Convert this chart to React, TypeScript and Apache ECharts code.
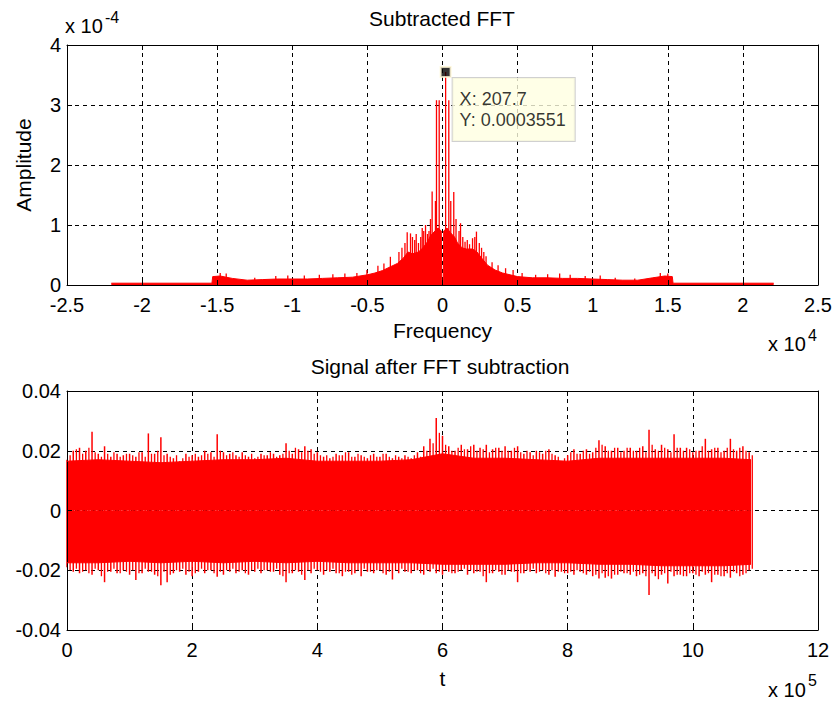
import React, { useEffect, useRef } from 'react';
import * as echarts from 'echarts';

const FONT = '"Liberation Sans", Arial, Helvetica, sans-serif';
const RED = '#ff0000';

// ---------- Top plot: Subtracted FFT (amplitude in units of 1e-4) ----------
const fftBodyFreq = [-22050, -15350, -15300, -14800, -14000, -13000, -12000, -11000, -10000, -9000, -8000, -7000, -6000, -5000, -4500, -4000, -3500, -3000, -2600, -2300, -2000, -1600, -1300, -1000, -800, -500, -300, -80, -50, 50, 80, 300, 500, 800, 1000, 1300, 1600, 2000, 2300, 2600, 3000, 3500, 4000, 4500, 5000, 6000, 7000, 8000, 9000, 10000, 11000, 12000, 13000, 14000, 14800, 15300, 15350, 22050];
const fftBodyAmp = [0.03, 0.03, 0.14, 0.15, 0.11, 0.08, 0.09, 0.1, 0.1, 0.1, 0.11, 0.12, 0.13, 0.17, 0.2, 0.24, 0.3, 0.36, 0.45, 0.55, 0.52, 0.55, 0.62, 0.72, 0.82, 0.9, 0.95, 0.9, 0.02, 0.02, 0.9, 0.95, 0.88, 0.8, 0.7, 0.62, 0.6, 0.6, 0.55, 0.45, 0.33, 0.25, 0.2, 0.17, 0.14, 0.12, 0.12, 0.11, 0.11, 0.1, 0.09, 0.08, 0.08, 0.12, 0.15, 0.14, 0.03, 0.03];

const fftSpikeFreq = [-14800, -14400, -12500, -11100, -10300, -9200, -8200, -7300, -6500, -5700, -5030, -4300, -3900, -3470, -2900, -2700, -2500, -2350, -2130, -2000, -1850, -1750, -1600, -1450, -1350, -1250, -1130, -1000, -900, -800, -690, -470, -400, -220,
  207.7, 420, 550, 750, 900, 1100, 1200, 1350, 1500, 1650, 1800, 2000, 2150, 2260, 2450, 2600, 2750, 2900, 3300, 3700, 4200, 4700, 5300, 6200, 7000, 7800, 8500, 9500, 10500, 11500, 12800, 14500, 15000];
const fftSpikeAmp = [0.2, 0.19, 0.12, 0.15, 0.16, 0.16, 0.17, 0.18, 0.19, 0.2, 0.25, 0.32, 0.36, 0.47, 0.55, 0.62, 0.7, 0.88, 0.86, 0.8, 0.75, 0.85, 0.7, 0.8, 0.95, 0.9, 1.0, 0.85, 0.9, 1.1, 1.56, 1.4, 3.08, 3.08,
  3.551, 3.08, 1.4, 1.55, 1.1, 0.9, 1.03, 0.8, 0.72, 0.75, 0.68, 0.78, 0.8, 0.89, 0.7, 0.62, 0.55, 0.48, 0.38, 0.33, 0.28, 0.25, 0.2, 0.17, 0.18, 0.19, 0.17, 0.15, 0.16, 0.12, 0.11, 0.2, 0.19];

const FFT_UNIT = 1e-4;
const tipX = 207.7;
const tipY = 0.0003551;

// ---------- Bottom plot: Signal after FFT subtraction (values in units of 1e-3) ----------
const SIG_UNIT = 1e-3;
const SIG_STEP = 1e4; // samples between envelope readings
const sigPeak = [
  17, 20, 21, 20, 26.4, 19, 21.5, 18, 19, 18.5,
  19, 18, 19.5, 25.8, 19, 24.5, 19, 17.5, 16.5, 19,
  18.5, 18, 20, 19.5, 25.5, 19.5, 19, 18.5, 19.5, 18,
  17.5, 19, 18.5, 19, 18.5, 22.5, 19, 20.5, 21.5, 20.5,
  19.5, 18, 17.5, 19, 18.5, 19.5, 18, 18.5, 17.5, 19,
  18, 19, 17.5, 18, 18.5, 17.5, 19.5, 21.5, 24, 31,
  25, 21.5, 20, 22, 20.5, 22, 21, 22, 20.5, 21,
  21.5, 20, 21.5, 19, 19.5, 20, 19, 20.5, 18.5, 16.5,
  18.5, 20.5, 19, 20.5, 19.5, 23.5, 21.5, 20, 21, 20,
  21, 20, 21.5, 27, 20.5, 22, 20.5, 25.5, 21, 21,
  19.5, 20, 24, 20.5, 21, 20, 24, 20, 21.5, 19.5,
];
const sigTrough = [
  -19, -20.5, -21, -20, -21.5, -20, -24, -20.5, -21, -20,
  -21.5, -23.3, -21, -20.5, -21.5, -25, -24, -21, -20.5, -21.5,
  -22, -20.5, -21, -20, -22.2, -21.5, -20.5, -21, -20, -21.5,
  -20.5, -21, -20, -20.5, -21.5, -24, -21, -20.5, -23.3, -21,
  -20, -21.5, -20.5, -21, -22, -20.5, -21, -22, -20.5, -21,
  -20, -21.5, -23.1, -21, -20.5, -21, -20, -21.5, -20.5, -21,
  -21.5, -20.5, -21, -20, -21.5, -21, -20.5, -24, -21, -20.5,
  -21.5, -20.5, -24, -21, -20.5, -21, -20, -21.5, -22.2, -20.5,
  -21, -21.5, -20.5, -21.5, -22, -22.8, -22.5, -22.8, -21.5, -21,
  -21.5, -22, -21, -28.3, -22, -21.5, -24.4, -22, -21.5, -22,
  -21, -22, -21.5, -24, -21.5, -22, -22.5, -21, -21.5, -20,
];
// envelope readings half-way between the ones above
const sigPeakMid = [
  18.5, 20.5, 19, 21, 19.5, 18, 19, 19.5, 18, 19,
  18.5, 19.5, 18, 19, 20, 18.5, 18, 18.5, 17.5, 18,
  19, 18.5, 19, 18, 20, 18.5, 19.5, 18, 18.5, 19,
  18, 18.5, 19.5, 18, 19, 20, 21, 19.5, 20, 19,
  18.5, 18.5, 18, 18.5, 19.5, 18, 19, 18, 18.5, 18,
  19, 18, 18.5, 17.5, 18, 18.5, 18, 20, 22.5, 26,
  22, 20, 21, 20.5, 21.5, 20, 20.5, 19.5, 21, 20,
  20, 21, 19.5, 20, 18.5, 19.5, 20, 19, 18, 17.5,
  19.5, 19, 20, 19, 21, 22, 20, 21, 19.5, 21,
  20, 21, 19.5, 22, 20, 21, 19.5, 21, 20, 20.5,
  20, 21.5, 20, 21, 19.5, 21, 20.5, 21, 20, 18.5,
];
const sigTroughMid = [
  -20, -19.5, -20.5, -21, -19.5, -22, -20.5, -19.5, -21, -20.5,
  -20, -21, -19.5, -20.5, -22, -20.5, -21.5, -20, -19.5, -20.5,
  -21, -19.5, -20, -21, -20.5, -20, -19.5, -20.5, -21, -20,
  -19.5, -20, -20.5, -19.5, -22, -21, -20, -21.5, -20, -19.5,
  -20.5, -20, -19.5, -21, -20.5, -21.5, -20, -19.5, -20.5, -20,
  -21, -20.5, -20, -19.5, -20.5, -20, -21, -20, -19.5, -20.5,
  -20, -21, -20.5, -19.5, -20, -20.5, -22, -21, -20, -21.5,
  -20, -20.5, -21, -20, -19.5, -20.5, -21, -20, -20.5, -21,
  -20.5, -20, -21, -20.5, -21.5, -21, -22, -21.5, -20.5, -21,
  -20.5, -21.5, -22, -21, -23, -21, -20.5, -21.5, -22, -21,
  -21.5, -20.5, -21, -21.5, -22, -21, -20.5, -22, -21, -19.5,
];
const sigBodyT = [0, 0.5, 1, 1.5, 2, 2.5, 3, 3.5, 4, 4.5, 5, 5.5, 6, 6.5, 7, 7.5, 8, 8.5, 9, 9.5, 10, 10.5, 10.93]; // x 1e5
const sigBodyUp = [16.5, 17, 16.5, 16, 16.5, 17, 17, 17.5, 16.5, 16.5, 16.5, 17, 19, 17.5, 17.5, 17, 16.5, 17.5, 17.5, 17.5, 17.5, 17.5, 17];
const sigBodyLo = [-17.5, -17.5, -17, -17.5, -17, -17.5, -17, -17.5, -17, -17.5, -17.5, -17.5, -18, -18, -18, -17.5, -17.5, -18, -18, -18.5, -18.5, -18.5, -18];

const tickStyle = { color: '#000', fontFamily: FONT, fontSize: 20 };
const nameStyle = { color: '#000', fontFamily: FONT, fontSize: 21 };

function mainXAxis(gridIndex: number, min: number, max: number, interval: number, div: number, name: string, nameGap: number) {
  return {
    type: 'value', gridIndex, min, max, interval, position: 'bottom', z: 3,
    axisLine: { show: true, onZero: false, lineStyle: { color: '#000', width: 1 } },
    axisTick: { show: true, inside: true, length: 5, lineStyle: { color: '#000' } },
    axisLabel: { ...tickStyle, margin: 10, formatter: (v: number) => String(Math.round((v / div) * 100) / 100) },
    splitLine: { show: false },
    name, nameLocation: 'middle', nameGap, nameTextStyle: nameStyle,
  };
}
function mirrorXAxis(gridIndex: number, min: number, max: number, interval: number) {
  return {
    type: 'value', gridIndex, min, max, interval, position: 'top',
    axisLine: { show: true, onZero: false, lineStyle: { color: '#000', width: 1 } },
    axisTick: { show: true, inside: true, length: 5, lineStyle: { color: '#000' } },
    axisLabel: { show: false },
    splitLine: { show: true, lineStyle: { color: '#000', width: 1, type: [4, 4] } },
  };
}
function mainYAxis(gridIndex: number, min: number, max: number, interval: number, fmt: (v: number) => string, name: string) {
  return {
    type: 'value', gridIndex, min, max, interval, position: 'left', z: 3,
    axisLine: { show: true, onZero: false, lineStyle: { color: '#000', width: 1 } },
    axisTick: { show: true, inside: true, length: 5, lineStyle: { color: '#000' } },
    axisLabel: { ...tickStyle, margin: 6, padding: [0, 0, 4, 0], formatter: fmt },
    splitLine: { show: false },
    name, nameLocation: 'middle', nameGap: 33, nameRotate: 90, nameTextStyle: nameStyle,
  };
}
function mirrorYAxis(gridIndex: number, min: number, max: number, interval: number) {
  return {
    type: 'value', gridIndex, min, max, interval, position: 'right',
    axisLine: { show: true, onZero: false, lineStyle: { color: '#000', width: 1 } },
    axisTick: { show: true, inside: true, length: 5, lineStyle: { color: '#000' } },
    axisLabel: { show: false },
    splitLine: { show: true, lineStyle: { color: '#000', width: 1, type: [4, 4] } },
  };
}

const vline = (lw: number) => (params: any, api: any) => {
  const x = api.value(0);
  const p0 = api.coord([x, api.value(1)]);
  const p1 = api.coord([x, api.value(2)]);
  return { type: 'line', shape: { x1: p0[0], y1: p0[1], x2: p1[0], y2: p1[1] }, style: { stroke: RED, lineWidth: lw } };
};

export default function App() {
  const ref = useRef<HTMLDivElement>(null);
  useEffect(() => {
    const chart = echarts.init(ref.current!, null, { renderer: 'svg' });

    const fftBody = fftBodyFreq.map((f, i) => [f, fftBodyAmp[i]]);
    const fftSpikes = fftSpikeFreq.map((f, i) => [f, 0, fftSpikeAmp[i]]);
    const sigUp = sigBodyT.map((t, i) => [t * 1e5, sigBodyUp[i] * SIG_UNIT]);
    const sigLo = sigBodyT.map((t, i) => [t * 1e5, sigBodyLo[i] * SIG_UNIT]);
    const sigSpikes = sigPeak.map((p, i) => [i * SIG_STEP, sigTrough[i] * SIG_UNIT, p * SIG_UNIT]);
    const sigSpikesMid = sigPeakMid.map((p, i) => [i * SIG_STEP + SIG_STEP / 2, sigTroughMid[i] * SIG_UNIT, p * SIG_UNIT]);

    const option: any = {
      animation: false,
      backgroundColor: '#fff',
      title: [
        { text: 'Subtracted FFT', left: 442, top: 8, textAlign: 'center', padding: 0, textStyle: { ...nameStyle, fontWeight: 'normal' } },
        { text: 'Signal after FFT subtraction', left: 440, top: 356, textAlign: 'center', padding: 0, textStyle: { ...nameStyle, fontWeight: 'normal' } },
      ],
      grid: [
        { left: 67, top: 45, width: 751, height: 240 },
        { left: 67, top: 391, width: 751, height: 239 },
      ],
      xAxis: [
        mainXAxis(0, -25000, 25000, 5000, 1e4, 'Frequency', 35),
        mirrorXAxis(0, -25000, 25000, 5000),
        mainXAxis(1, 0, 1200000, 200000, 1e5, 't', 38),
        mirrorXAxis(1, 0, 1200000, 200000),
      ],
      yAxis: [
        mainYAxis(0, 0, 4, 1, (v: number) => String(Math.round(v)), 'Amplitude'),
        mirrorYAxis(0, 0, 4, 1),
        mainYAxis(1, -0.04, 0.04, 0.02, (v: number) => (Math.abs(v) < 1e-9 ? '0' : String(Math.round(v * 100) / 100)), ''),
        mirrorYAxis(1, -0.04, 0.04, 0.02),
      ],
      graphic: [
        { type: 'text', x: 65, y: 26, style: { text: 'x 10', font: `20px ${FONT}`, fill: '#000', verticalAlign: 'middle', textVerticalAlign: 'middle' } },
        { type: 'text', x: 105, y: 17, style: { text: '-4', font: `16px ${FONT}`, fill: '#000', verticalAlign: 'middle', textVerticalAlign: 'middle' } },
        { type: 'text', x: 768, y: 344, style: { text: 'x 10', font: `20px ${FONT}`, fill: '#000', verticalAlign: 'middle', textVerticalAlign: 'middle' } },
        { type: 'text', x: 808, y: 335, style: { text: '4', font: `16px ${FONT}`, fill: '#000', verticalAlign: 'middle', textVerticalAlign: 'middle' } },
        { type: 'text', x: 768, y: 690, style: { text: 'x 10', font: `20px ${FONT}`, fill: '#000', verticalAlign: 'middle', textVerticalAlign: 'middle' } },
        { type: 'text', x: 808, y: 680, style: { text: '5', font: `16px ${FONT}`, fill: '#000', verticalAlign: 'middle', textVerticalAlign: 'middle' } },
      ],
      series: [
        {
          type: 'line', xAxisIndex: 0, yAxisIndex: 0, data: fftBody, showSymbol: false, symbol: 'none',
          lineStyle: { color: RED, width: 1 }, areaStyle: { color: RED, opacity: 1 }, z: 2,
        },
        {
          type: 'custom', xAxisIndex: 0, yAxisIndex: 0, data: fftSpikes, encode: { x: 0, y: [1, 2] },
          renderItem: vline(1.3), z: 2,
        },
        {
          type: 'scatter', xAxisIndex: 0, yAxisIndex: 0, data: [[tipX, tipY / FFT_UNIT]],
          symbol: 'rect', symbolSize: 10, z: 10,
          itemStyle: { color: '#000', borderColor: '#fff6d5', borderWidth: 2 },
          label: {
            show: true, position: [13, 12], align: 'left', verticalAlign: 'top',
            formatter: `X: ${tipX}\nY: ${tipY}`,
            color: '#000', fontFamily: FONT, fontSize: 18, lineHeight: 21,
            backgroundColor: '#ffffe1', borderColor: '#c4c4c4', borderWidth: 1, padding: [11, 9, 10, 7],
          },
        },
        {
          type: 'line', xAxisIndex: 2, yAxisIndex: 2, data: sigUp, showSymbol: false, symbol: 'none',
          lineStyle: { color: RED, width: 1 }, areaStyle: { color: RED, opacity: 1 },
        },
        {
          type: 'line', xAxisIndex: 2, yAxisIndex: 2, data: sigLo, showSymbol: false, symbol: 'none',
          lineStyle: { color: RED, width: 1 }, areaStyle: { color: RED, opacity: 1 },
        },
        {
          type: 'custom', xAxisIndex: 2, yAxisIndex: 2, data: sigSpikesMid, encode: { x: 0, y: [1, 2] },
          renderItem: vline(1.3),
        },
        {
          type: 'custom', xAxisIndex: 2, yAxisIndex: 2, data: sigSpikes, encode: { x: 0, y: [1, 2] },
          renderItem: vline(1.5),
        },
      ],
    };
    chart.setOption(option);
    return () => chart.dispose();
  }, []);

  return <div ref={ref} style={{ position: 'fixed', left: 0, top: 0, width: 835, height: 704, background: '#fff' }} />;
}
